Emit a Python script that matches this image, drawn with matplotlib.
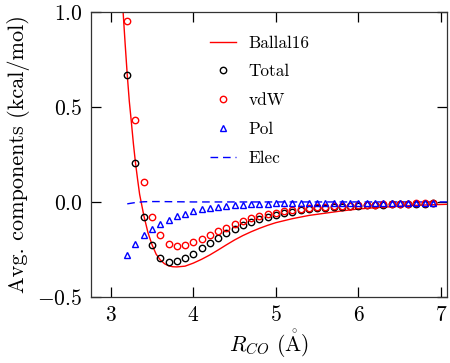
import numpy as np
import matplotlib
matplotlib.use("Agg")
import matplotlib.pyplot as plt

plt.rcParams['font.family'] = ['cmr10', 'DejaVu Serif']
plt.rcParams['mathtext.fontset'] = 'cm'
plt.rcParams['axes.formatter.use_mathtext'] = True
plt.rcParams['axes.unicode_minus'] = True

# Data
r_pts = [3.2, 3.3, 3.4, 3.5, 3.6, 3.7, 3.8, 3.9, 4.0, 4.1, 4.2, 4.3, 4.4, 4.5,
         4.6, 4.7, 4.8, 4.9, 5.0, 5.1, 5.2, 5.3, 5.4, 5.5, 5.6, 5.7, 5.8, 5.9,
         6.0, 6.1, 6.2, 6.3, 6.4, 6.5, 6.6, 6.7, 6.8, 6.9]
total = [0.668, 0.205, -0.077, -0.226, -0.296, -0.314, -0.311, -0.296, -0.272,
         -0.245, -0.215, -0.188, -0.163, -0.141, -0.122, -0.105, -0.090, -0.078,
         -0.068, -0.059, -0.051, -0.045, -0.039, -0.034, -0.030, -0.027, -0.024,
         -0.021, -0.019, -0.017, -0.016, -0.014, -0.013, -0.012, -0.011, -0.010,
         -0.009, -0.008]
vdw = [0.953, 0.430, 0.105, -0.080, -0.176, -0.220, -0.233, -0.226, -0.213,
       -0.196, -0.174, -0.153, -0.136, -0.118, -0.101, -0.087, -0.075, -0.065,
       -0.056, -0.048, -0.042, -0.037, -0.033, -0.029, -0.026, -0.023, -0.021,
       -0.019, -0.017, -0.015, -0.014, -0.012, -0.011, -0.010, -0.009, -0.008,
       -0.007, -0.007]
pol = [-0.279, -0.220, -0.176, -0.141, -0.114, -0.093, -0.076, -0.062, -0.048,
       -0.039, -0.031, -0.026, -0.021, -0.017, -0.014, -0.012, -0.010, -0.009,
       -0.008, -0.007, -0.006, -0.006, -0.006, -0.005, -0.005, -0.005, -0.005,
       -0.005, -0.005, -0.005, -0.005, -0.005, -0.005, -0.005, -0.005, -0.005,
       -0.005, -0.005]
elec_r = [3.2, 3.3, 3.4, 3.5, 3.6, 3.8, 4.0, 4.5, 5.0, 6.0, 7.1]
elec = [-0.010, -0.003, 0.001, 0.002, 0.002, 0.001, 0.0, 0.0, 0.0, 0.0, 0.0]
ballal_r = [3.14, 3.15, 3.175, 3.20, 3.225, 3.25, 3.275, 3.30, 3.325, 3.35, 3.40,
            3.45, 3.50, 3.55, 3.60, 3.65, 3.70, 3.75, 3.80, 3.90, 4.00, 4.10,
            4.20, 4.30, 4.40, 4.50, 4.60, 4.70, 4.80, 4.90, 5.00, 5.20, 5.40,
            5.60, 5.80, 6.00, 6.20, 6.40, 6.60, 6.80, 7.10]
ballal = [1.06, 1.00, 0.83, 0.67, 0.53, 0.42, 0.305, 0.205, 0.12, 0.04, -0.07,
          -0.16, -0.225, -0.275, -0.305, -0.325, -0.336, -0.341, -0.342, -0.338,
          -0.322, -0.302, -0.279, -0.253, -0.226, -0.200, -0.177, -0.157, -0.139,
          -0.123, -0.109, -0.088, -0.071, -0.059, -0.047, -0.037, -0.030, -0.025,
          -0.020, -0.016, -0.012]

xticks = [3, 4, 5, 6, 7]
yticks = [-0.5, 0.0, 0.5, 1.0]

fig = plt.figure(figsize=(4.5, 3.63), dpi=100)
ax = fig.add_axes([0.202, 0.182, 0.791, 0.785])

red = '#ff0000'
blue = '#0000ff'

ax.plot(ballal_r, ballal, color=red, lw=1.0, label='Ballal16', zorder=2)
ax.plot(r_pts, total, ls='none', marker='o', ms=4.6, mfc='none', mec='black',
        mew=1.0, label='Total', zorder=3)
ax.plot(r_pts, vdw, ls='none', marker='o', ms=4.6, mfc='none', mec=red,
        mew=1.0, label='vdW', zorder=3)
ax.plot(r_pts, pol, ls='none', marker='^', ms=4.2, mfc='none', mec=blue,
        mew=1.0, label='Pol', zorder=3)
ax.plot(elec_r, elec, color=blue, lw=1.0, dashes=(5.5, 3.5), label='Elec',
        zorder=2)

ax.set_xlim(2.76, 7.07)
ax.set_ylim(-0.5, 1.0)
ax.set_xticks(xticks)
ax.set_yticks(yticks)
ax.tick_params(direction='in', length=7.5, width=0.9, top=True, right=True,
               labelsize=15.5, pad=6)
for s in ax.spines.values():
    s.set_linewidth(0.9)
    s.set_color('#333333')

ax.set_xlabel(r'$R_{CO}$ ($\mathring{\mathrm{A}}$)', fontsize=15.5, labelpad=2)
ax.set_ylabel('Avg. components (kcal/mol)', fontsize=16, labelpad=5)

leg = ax.legend(loc='upper left', bbox_to_anchor=(0.334, 0.918), frameon=False,
                fontsize=12.4, labelspacing=0.78, handlelength=1.55,
                handletextpad=0.72, numpoints=1, borderpad=0, borderaxespad=0)

fig.savefig('out.png', dpi=100)
